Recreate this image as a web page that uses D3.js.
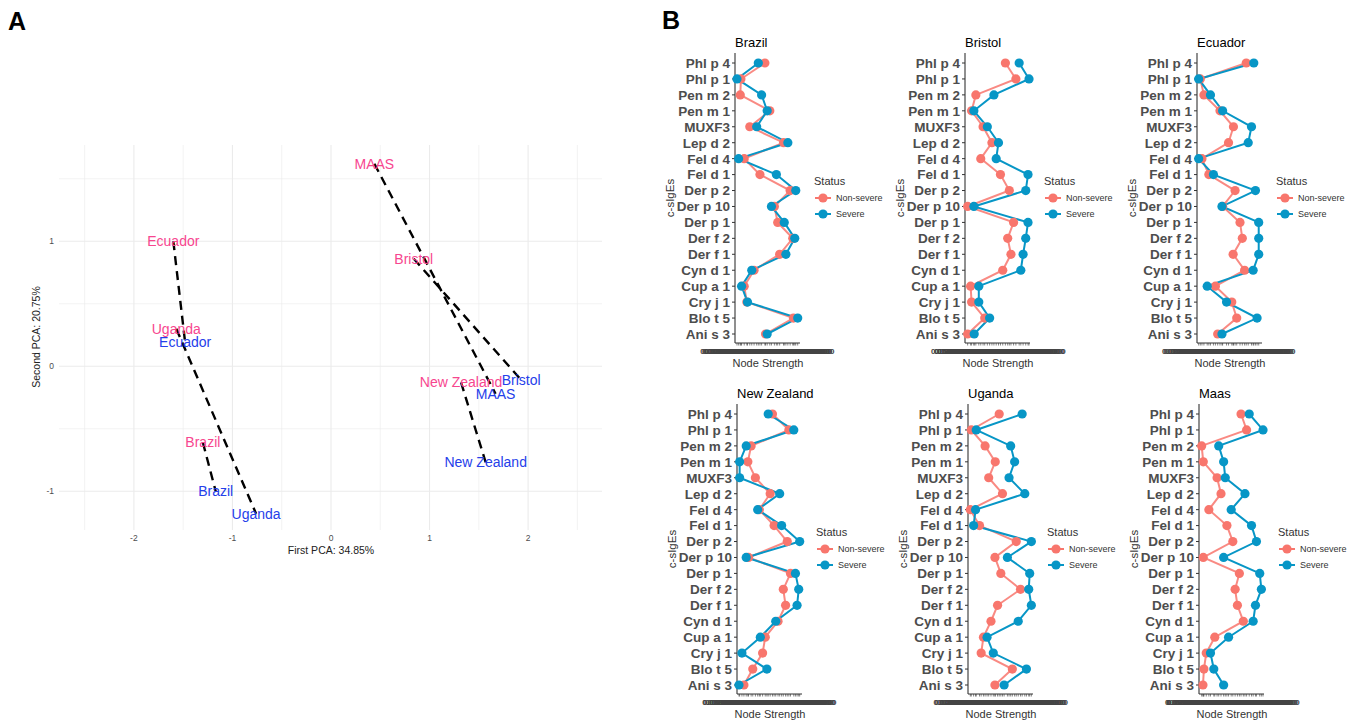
<!DOCTYPE html>
<html>
<head>
<meta charset="utf-8">
<script src="https://cdn.jsdelivr.net/npm/d3@7"></script>
<style>
  body { margin: 0; background: #fff; }
  svg { display: block; font-family: "Liberation Sans", Arial, sans-serif; }
</style>
</head>
<body>
<div id="chart"></div>
<script>
// ---- Panel A data (PCA)
const pcaSites = ["Ecuador", "Uganda", "Brazil", "MAAS", "Bristol", "New Zealand"];
const nonSevereX = [-1.60, -1.57, -1.30, 0.44, 0.84, 1.32];
const nonSevereY = [1.00, 0.30, -0.61, 1.62, 0.86, -0.13];
const severeX = [-1.48, -0.76, -1.17, 1.67, 1.93, 1.57];
const severeY = [0.19, -1.18, -1.00, -0.22, -0.11, -0.77];
const pcaXTicks = [-2, -1, 0, 1, 2];
const pcaYTicks = [-1, 0, 1];

// ---- Panel B data (node strength per c-sIgE)
const categories = ["Phl p 4", "Phl p 1", "Pen m 2", "Pen m 1", "MUXF3", "Lep d 2", "Fel d 4", "Fel d 1",
  "Der p 2", "Der p 10", "Der p 1", "Der f 2", "Der f 1", "Cyn d 1", "Cup a 1", "Cry j 1", "Blo t 5", "Ani s 3"];
const statusLevels = ["Non-severe", "Severe"];

const brazilNonSevere = [0.88, 0.15, 0.13, 1.03, 0.42, 1.45, 0.25, 0.73, 1.65, 1.17, 1.27, 1.73, 1.33, 0.55, 0.25, 0.33, 1.75, 0.90];
const brazilSevere    = [0.68, 0.03, 0.78, 0.95, 0.63, 1.58, 0.08, 1.23, 1.82, 1.08, 1.47, 1.79, 1.52, 0.48, 0.17, 0.35, 1.88, 0.95];
const bristolNonSevere = [1.20, 1.52, 0.30, 0.17, 0.52, 0.79, 0.45, 1.05, 1.32, 0.05, 1.45, 1.27, 1.37, 1.12, 0.14, 0.17, 0.57, 0.05];
const bristolSevere    = [1.62, 1.92, 0.85, 0.24, 0.65, 0.99, 0.92, 1.89, 1.82, 0.24, 1.89, 1.82, 1.74, 1.67, 0.39, 0.39, 0.72, 0.25];
const ecuadorNonSevere = [1.47, 0.07, 0.18, 0.67, 1.08, 0.93, 0.12, 0.33, 1.13, 0.75, 1.28, 1.35, 1.07, 1.42, 0.53, 1.03, 1.18, 0.60];
const ecuadorSevere    = [1.70, 0.02, 0.38, 0.75, 1.63, 1.53, 0.02, 0.47, 1.75, 0.73, 1.85, 1.85, 1.85, 1.68, 0.28, 0.87, 1.80, 0.73];
const nzNonSevere = [1.05, 1.55, 0.40, 0.30, 0.53, 0.98, 0.65, 1.10, 1.50, 0.32, 1.60, 1.38, 1.45, 1.22, 0.83, 0.75, 0.45, 0.18];
const nzSevere    = [0.92, 1.70, 0.25, 0.05, 0.05, 1.27, 0.60, 1.33, 1.88, 0.25, 1.75, 1.85, 1.80, 1.15, 0.68, 0.12, 0.88, 0.03];
const ugandaNonSevere = [0.92, 0.07, 0.49, 0.80, 0.60, 1.02, 0.04, 0.32, 1.44, 0.79, 0.97, 1.57, 0.87, 0.67, 0.44, 0.37, 1.32, 0.79];
const ugandaSevere    = [1.62, 0.22, 1.27, 1.39, 1.22, 1.70, 0.20, 0.14, 1.90, 1.17, 1.85, 1.82, 1.90, 1.50, 0.55, 0.74, 1.75, 1.07];
const maasNonSevere = [1.25, 1.42, 0.05, 0.10, 0.52, 0.64, 0.27, 0.82, 1.00, 0.10, 1.20, 1.07, 1.14, 1.32, 0.45, 0.19, 0.12, 0.09];
const maasSevere    = [1.50, 1.92, 0.57, 0.72, 0.77, 1.37, 0.95, 1.57, 1.72, 0.72, 1.82, 1.87, 1.69, 1.62, 0.87, 0.32, 0.42, 0.72];

const facets = [
  { name: "Brazil",      ax: 735,  top: 63,  ns: brazilNonSevere,  sv: brazilSevere },
  { name: "Bristol",     ax: 965,  top: 63,  ns: bristolNonSevere, sv: bristolSevere },
  { name: "Ecuador",     ax: 1197, top: 63,  ns: ecuadorNonSevere, sv: ecuadorSevere },
  { name: "New Zealand", ax: 737,  top: 414, ns: nzNonSevere,      sv: nzSevere },
  { name: "Uganda",      ax: 968,  top: 414, ns: ugandaNonSevere,  sv: ugandaSevere },
  { name: "Maas",        ax: 1199, top: 414, ns: maasNonSevere,    sv: maasSevere }
];

const W = 1357, H = 722;
const pink = "#f7468f", blue = "#2540ea";
const color = d3.scaleOrdinal().domain(statusLevels).range(["#f8766d", "#0796c6"]);

const svg = d3.select("#chart").append("svg")
  .attr("width", W).attr("height", H);

// panel letters
svg.append("text").attr("x", 8).attr("y", 30).attr("font-size", 25).attr("font-weight", "bold").text("A");
svg.append("text").attr("x", 662).attr("y", 29).attr("font-size", 25).attr("font-weight", "bold").text("B");

// ================= Panel A =================
const xA = d3.scaleLinear().domain([-2.76, 2.75]).range([59, 602]);
const yA = d3.scaleLinear().domain([-1.31, 1.77]).range([530, 145]);
const gA = svg.append("g");

// grid
gA.selectAll(".vgrid").data(d3.range(-2.5, 2.51, 0.5)).enter().append("line")
  .attr("x1", d => xA(d)).attr("x2", d => xA(d))
  .attr("y1", yA.range()[0]).attr("y2", yA.range()[1])
  .attr("stroke", "#ebebeb").attr("stroke-width", d => Number.isInteger(d) ? 1.1 : 0.6);
gA.selectAll(".hgrid").data(d3.range(-1, 1.51, 0.5)).enter().append("line")
  .attr("y1", d => yA(d)).attr("y2", d => yA(d))
  .attr("x1", xA.range()[0]).attr("x2", xA.range()[1])
  .attr("stroke", "#ebebeb").attr("stroke-width", d => Number.isInteger(d) ? 1.1 : 0.6);

// tick labels
gA.selectAll(".xt").data(pcaXTicks).enter().append("text")
  .attr("x", d => xA(d)).attr("y", 541).attr("text-anchor", "middle")
  .attr("font-size", 8.5).attr("fill", "#4d4d4d").text(d => d);
gA.selectAll(".yt").data(pcaYTicks).enter().append("text")
  .attr("x", 54).attr("y", d => yA(d)).attr("dy", "0.35em").attr("text-anchor", "end")
  .attr("font-size", 8.5).attr("fill", "#4d4d4d").text(d => d);

gA.append("text").attr("x", xA(0)).attr("y", 554).attr("text-anchor", "middle")
  .attr("font-size", 10.5).attr("fill", "#222").text("First PCA: 34.85%");
gA.append("text").attr("transform", "translate(40,337) rotate(-90)").attr("text-anchor", "middle")
  .attr("font-size", 10.5).attr("fill", "#222").text("Second PCA: 20.75%");

// dashed segments
const pcaRows = pcaSites.map((s, i) => ({ site: s, x1: nonSevereX[i], y1: nonSevereY[i], x2: severeX[i], y2: severeY[i] }));
gA.selectAll(".seg").data(pcaRows).enter().append("line")
  .attr("x1", d => xA(d.x1)).attr("y1", d => yA(d.y1))
  .attr("x2", d => xA(d.x2)).attr("y2", d => yA(d.y2))
  .attr("stroke", "#000").attr("stroke-width", 2.4).attr("stroke-dasharray", "9,6");

gA.selectAll(".lblN").data(pcaRows).enter().append("text")
  .attr("x", d => xA(d.x1)).attr("y", d => yA(d.y1)).attr("dy", "0.35em")
  .attr("text-anchor", "middle").attr("font-size", 14).attr("fill", pink).text(d => d.site);
gA.selectAll(".lblS").data(pcaRows).enter().append("text")
  .attr("x", d => xA(d.x2)).attr("y", d => yA(d.y2)).attr("dy", "0.35em")
  .attr("text-anchor", "middle").attr("font-size", 14).attr("fill", blue).text(d => d.site);

// ================= Panel B =================
const fmtTick = d3.format(".15f");

function drawFacet(f) {
  const g = svg.append("g");
  const x = d3.scaleLinear().domain([0, 1.95]).range([f.ax + 1, f.ax + 65]);
  const y = d3.scalePoint().domain(categories).range([f.top, f.top + 271]);
  const axisY = f.top + 280;

  // title
  g.append("text").attr("x", f.ax).attr("y", f.top - 16)
    .attr("font-size", 13).attr("fill", "#000").text(f.name);

  // y axis
  g.append("line").attr("x1", f.ax).attr("x2", f.ax).attr("y1", f.top - 10).attr("y2", axisY)
    .attr("stroke", "#333").attr("stroke-width", 1.1);
  g.selectAll(".ytk").data(categories).enter().append("line")
    .attr("x1", f.ax - 3).attr("x2", f.ax).attr("y1", d => y(d)).attr("y2", d => y(d))
    .attr("stroke", "#333");
  g.selectAll(".ylab").data(categories).enter().append("text")
    .attr("x", f.ax - 5).attr("y", d => y(d)).attr("dy", "0.36em").attr("text-anchor", "end")
    .attr("font-size", 13.5).attr("font-weight", "bold").attr("fill", "#4d4d4d").text(d => d);
  g.append("text").attr("transform", `translate(${f.ax - 65},${f.top + 135}) rotate(-90)`)
    .attr("text-anchor", "middle").attr("dy", "0.35em").attr("font-size", 11.5).attr("fill", "#333")
    .text("c-sIgEs");

  // x axis: one tick per distinct strength value (the crowded discrete axis)
  const vals = Array.from(new Set(f.ns.concat(f.sv))).sort(d3.ascending);
  g.append("line").attr("x1", f.ax).attr("x2", f.ax + 65).attr("y1", axisY).attr("y2", axisY)
    .attr("stroke", "#333").attr("stroke-width", 1.1);
  g.selectAll(".xtk").data(vals).enter().append("line")
    .attr("x1", d => x(d)).attr("x2", d => x(d)).attr("y1", axisY).attr("y2", axisY + 2.5)
    .attr("stroke", "#333").attr("stroke-width", 0.6);
  g.selectAll(".xlab").data(vals).enter().append("text")
    .attr("x", d => x(d)).attr("y", axisY + 8).attr("dy", "0.35em").attr("text-anchor", "middle")
    .attr("font-size", 8).attr("font-weight", "bold").attr("fill", "#444").text(d => fmtTick(d));
  g.append("text").attr("x", f.ax + 33).attr("y", f.top + 300).attr("dy", "0.35em")
    .attr("text-anchor", "middle").attr("font-size", 11).attr("fill", "#333").text("Node Strength");

  // series
  const series = [
    { key: "Non-severe", values: f.ns },
    { key: "Severe", values: f.sv }
  ];
  const line = d3.line().x(d => x(d.v)).y(d => y(d.c));
  series.forEach(s => {
    g.append("path")
      .datum(categories.map((c, i) => ({ c, v: s.values[i] })))
      .attr("d", line).attr("fill", "none")
      .attr("stroke", color(s.key)).attr("stroke-width", 2)
      .attr("stroke-opacity", s.key === "Severe" ? 1 : 0.85);
  });
  series.forEach(s => {
    g.selectAll(null).data(categories.map((c, i) => ({ c, v: s.values[i] }))).enter().append("circle")
      .attr("cx", d => x(d.v)).attr("cy", d => y(d.c)).attr("r", 4.6)
      .attr("fill", color(s.key));
  });

  // legend
  const lx = f.ax + 79, ly = f.top + 118;
  g.append("text").attr("x", lx).attr("y", ly).attr("dy", "0.35em")
    .attr("font-size", 11).attr("fill", "#333").text("Status");
  const items = g.selectAll(".leg").data(statusLevels).enter().append("g")
    .attr("transform", (d, i) => `translate(${f.ax + 88},${f.top + 135 + i * 16})`);
  items.append("line").attr("x1", -8).attr("x2", 8)
    .attr("stroke", d => color(d)).attr("stroke-width", 2);
  items.append("circle").attr("r", 4.6).attr("fill", d => color(d));
  items.append("text").attr("x", 13).attr("dy", "0.35em")
    .attr("font-size", 9).attr("fill", "#333").text(d => d);
}

facets.forEach(drawFacet);
</script>
</body>
</html>
